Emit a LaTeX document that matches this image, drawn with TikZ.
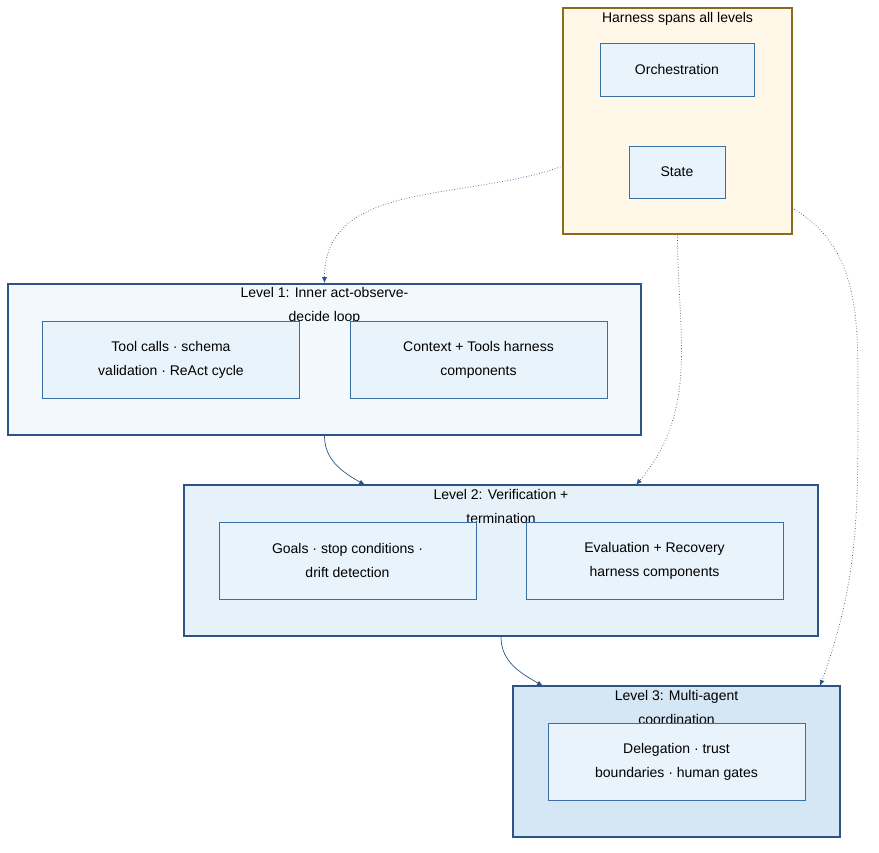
\documentclass[tikz,border=0pt]{standalone}
\usepackage{fontspec}
\setmainfont{Liberation Sans}
\usetikzlibrary{arrows.meta}
\definecolor{harnfill}{HTML}{FFF8E8}
\definecolor{harnline}{HTML}{8B6A1E}
\definecolor{boxfill}{HTML}{E8F3FC}
\definecolor{boxline}{HTML}{3A6EA5}
\definecolor{lvlline}{HTML}{2C5585}
\definecolor{lvlA}{HTML}{F3F8FC}
\definecolor{lvlB}{HTML}{E7F1FA}
\definecolor{lvlC}{HTML}{D5E6F5}
\tikzset{
  inner/.style={draw=boxline, fill=boxfill, line width=0.6pt, align=center,
    minimum width=257pt, minimum height=77pt, inner sep=0pt},
  level/.style={draw=lvlline, line width=1.6pt, minimum width=633pt,
    minimum height=151pt, inner sep=0pt},
  title/.style={anchor=north, align=center, inner sep=0pt},
  flow/.style={draw=lvlline, line width=0.7pt, -{Latex[length=6pt,width=5pt]}},
  span/.style={flow, dotted}
}
\begin{document}
\begin{tikzpicture}[x=1pt,y=-1pt,font=\fontsize{14}{24}\selectfont]
\useasboundingbox (0,0) rectangle (879,853);

% harness
\node[draw=harnline, fill=harnfill, line width=1.6pt, minimum width=229pt,
  minimum height=226pt, inner sep=0pt] (harness) at (677.5,121) {};
\node[title] (htitle) at (677.5,12) {Harness spans all levels};
\node[inner, minimum width=154pt, minimum height=53pt] (orch) at (677,69.5) {Orchestration};
\node[inner, minimum width=96pt, minimum height=52pt] (state) at (677,172) {State};

% level 1
\node[level, fill=lvlA] (lvl1) at (324.5,359.5) {};
\node[title] (t1) at (324.5,287) {Level 1: Inner act-observe-\\decide loop};
\node[inner] (tool) at (171,359.5) {Tool calls · schema\\validation · ReAct cycle};
\node[inner] (ctx) at (478.5,359.5) {Context + Tools harness\\components};

% level 2
\node[level, fill=lvlB, minimum width=634pt] (lvl2) at (501,560.5) {};
\node[title] (t2) at (501,489) {Level 2: Verification +\\termination};
\node[inner] (goals) at (347.5,560.5) {Goals · stop conditions ·\\drift detection};
\node[inner] (evalr) at (654.5,560.5) {Evaluation + Recovery\\harness components};

% level 3
\node[level, fill=lvlC, minimum width=327pt] (lvl3) at (676.5,761.5) {};
\node[title] (t3) at (676.5,690) {Level 3: Multi-agent\\coordination};
\node[inner] (deleg) at (676.5,761.5) {Delegation · trust\\boundaries · human gates};

% connector ends
\coordinate (l2in) at (365,485);
\coordinate (l3in) at (543,686);
\coordinate (l2dot) at (636,485);
\coordinate (l3dot) at (820,686);
\coordinate (hleft) at (563,166);
\coordinate (hright) at (792,208);

\draw[flow] (lvl1.south) to[out=-90,in=150] (l2in);
\draw[flow] (lvl2.south) to[out=-90,in=150] (l3in);
\draw[span] (hleft) to[out=200,in=90] (lvl1.north);
\draw[span] (harness.south) to[out=-90,in=50] (l2dot);
\draw[span] (hright) to[out=-30,in=90] (858,400) to[out=-90,in=70] (l3dot);
\end{tikzpicture}
\end{document}
